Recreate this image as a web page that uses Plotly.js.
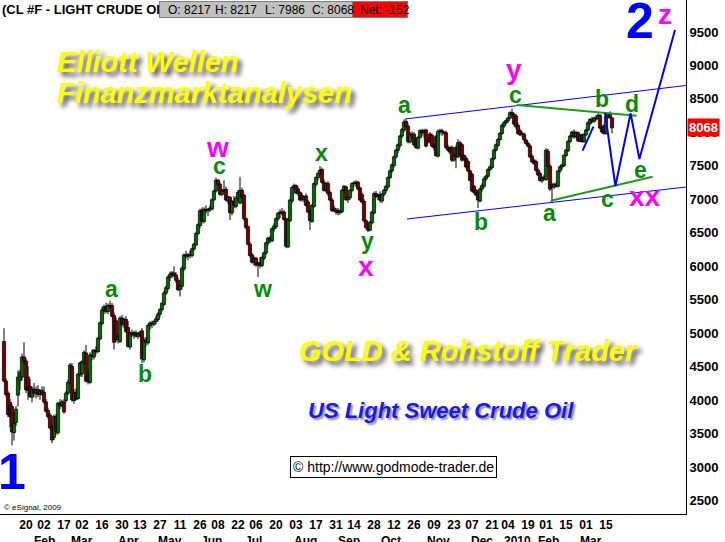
<!DOCTYPE html>
<html><head><meta charset="utf-8">
<script src="https://cdn.plot.ly/plotly-3.0.1.min.js"></script>
<style>html,body{margin:0;padding:0;background:#fff;}#chart{width:725px;height:542px;}</style>
</head><body><div id="chart"></div>
<script>
// Daily OHLC, CL #F light crude oil (Jan 2009 - Mar 2010)
const openP = [4875,4285,4105,3965,3905,3515,3665,4075,4295,4345,4645,4585,4345,4205,4045,4165,4105,4155,4085,4145,
4115,3975,3845,3775,3595,3445,3750,3515,3955,3915,3975,3995,4105,4255,4505,3995,4115,4025,4375,4395,
4565,4705,4365,4265,4675,4645,4745,4725,4915,5145,5345,5395,5325,5415,5415,5265,5185,4905,4875,5225,
5135,5205,5085,4795,5005,4975,5005,4955,4975,5035,4605,4895,4855,5115,5145,5135,5175,5205,5285,5355,
5430,5600,5670,5840,5880,5900,5870,5790,5650,5700,5960,6170,6150,6170,6160,6260,6320,6490,6610,6840,
6670,6850,6830,6850,6855,6995,7125,7285,7225,7075,7125,7150,6975,7030,6800,6970,6895,7015,6945,7135,
7060,6710,6590,6330,6170,6060,6120,6020,6050,6010,6120,6200,6350,6420,6380,6560,6590,6710,6790,6810,
6810,6710,6290,6680,6975,7175,7205,7155,7100,7055,6995,7050,6960,6820,6670,6895,7225,7325,7385,7445,
7255,7135,7235,7100,6990,6870,6840,6830,6800,6815,7135,7185,6995,7025,7135,7235,7245,7255,7170,7070,
6970,6680,6580,6540,6650,6795,7085,7045,7070,6975,7075,7135,7185,7325,7425,7505,7635,7735,7805,7945,
8035,8165,8095,7855,7975,7975,7875,7765,7925,8025,7995,8035,7875,7975,7955,7795,7935,7645,8015,8025,
8005,7995,7775,7765,7775,7585,7775,7635,7845,7815,7655,7615,7565,7425,7375,7195,7135,7100,6975,7155,
7195,7305,7345,7445,7475,7605,7735,7805,7895,7985,8095,8145,8175,8215,8295,8265,8245,8105,8025,7985,
7975,7885,7835,7795,7645,7575,7565,7435,7385,7275,7315,7295,7715,7495,7215,7185,7225,7195,7425,7485,
7505,7655,7725,7865,7945,8005,7935,7995,7945,7965,7865,7965,8035,8135,8195,8165,8215,8205,8255,8065,
8095,7985,8235,8275,8217];
const highP = [5075,4325,4135,4015,3935,3825,3915,4445,4455,4695,4865,4625,4505,4315,4205,4255,4205,4225,4165,4205,
4205,4015,3885,3805,3635,3785,3790,3975,4015,4005,4015,4135,4305,4555,4555,4165,4175,4405,4575,4595,
4745,4825,4455,4715,4755,4765,4805,4945,5175,5385,5425,5455,5445,5485,5455,5305,5235,4985,5255,5275,
5235,5255,5185,5025,5055,5035,5045,5015,5035,5075,4935,4945,5135,5175,5185,5195,5255,5315,5375,5465,
5630,5710,5860,5920,5930,6000,5910,5830,5730,6000,6190,6230,6200,6230,6280,6350,6510,6640,6860,6880,
6880,6910,6870,6910,7015,7145,7325,7305,7255,7155,7285,7190,7055,7050,6990,7050,7045,7135,7335,7175,
7080,6730,6610,6360,6200,6150,6140,6070,6140,6150,6220,6370,6440,6450,6580,6640,6730,6810,6850,6870,
6840,6730,6720,7010,7195,7235,7225,7195,7120,7095,7055,7090,6990,6860,6930,7255,7345,7415,7495,7475,
7295,7255,7275,7130,7020,6910,6870,6870,6850,7155,7215,7205,7055,7155,7255,7275,7285,7275,7190,7100,
7000,6700,6640,6680,6830,7115,7125,7085,7120,7095,7155,7215,7345,7445,7535,7655,7755,7835,7965,8065,
8195,8195,8135,8005,8015,8005,7925,7945,8045,8055,8055,8055,7925,8005,7985,7835,7965,8045,8055,8055,
8025,8025,7815,7795,7805,7675,7805,7895,7875,7835,7675,7645,7595,7445,7395,7215,7155,7120,7175,7235,
7335,7365,7465,7505,7625,7755,7835,7915,8005,8125,8165,8195,8235,8315,8355,8295,8275,8135,8055,8015,
7995,7905,7865,7825,7675,7605,7595,7465,7415,7335,7365,7765,7755,7525,7245,7245,7255,7435,7505,7535,
7675,7755,7885,7965,8025,8045,8025,8015,7975,7985,7985,8055,8165,8215,8235,8235,8255,8285,8275,8105,
8125,8265,8295,8315,8217];
const lowP = [4265,4055,3745,3595,3325,3395,3615,3905,4155,4295,4525,4105,4005,4035,3965,4055,4025,4045,4005,4065,
3945,3815,3725,3565,3355,3405,3480,3485,3865,3895,3795,3965,4075,4235,3975,3945,3995,4005,4345,4345,
4525,4265,4235,4245,4595,4605,4685,4705,4895,5115,5285,5295,5285,5365,5235,4755,4865,4845,4855,5095,
5075,5005,4785,4755,4945,4915,4935,4915,4935,4555,4565,4805,4825,5055,5075,5105,5135,5175,5245,5325,
5410,5570,5640,5780,5820,5840,5750,5630,5550,5660,5930,6110,6090,6120,6130,6230,6300,6460,6570,6640,
6640,6790,6750,6810,6835,6975,7105,7195,7055,7045,7095,6970,6935,6690,6760,6870,6865,6975,6925,6995,
6680,6550,6310,6130,6040,6010,5990,5840,5970,5990,6090,6170,6310,6350,6360,6520,6560,6680,6720,6760,
6680,6270,6270,6660,6945,7145,7075,7055,6970,6965,6955,6890,6800,6540,6650,6875,7195,7285,7355,7235,
7115,7105,7055,6970,6810,6810,6770,6760,6770,6795,7095,6975,6945,6995,7105,7195,7185,7135,6970,6940,
6660,6560,6510,6520,6630,6775,7015,6985,6950,6945,7045,7095,7165,7305,7395,7475,7605,7695,7775,7915,
8005,8065,7835,7835,7905,7795,7755,7745,7905,7945,7925,7775,7835,7835,7775,7735,7635,7625,7965,7945,
7965,7755,7715,7675,7555,7565,7465,7615,7635,7565,7575,7465,7405,7265,7105,7085,7045,6870,6955,7115,
7175,7275,7325,7415,7455,7585,7715,7785,7875,7965,8065,8115,8145,8195,8235,8105,8055,7965,7945,7935,
7865,7815,7775,7615,7545,7515,7415,7345,7265,7245,7285,7275,7475,7125,6945,7155,7175,7175,7395,7445,
7485,7635,7705,7845,7915,7905,7915,7855,7855,7845,7845,7945,8015,8105,8135,8145,8175,8185,8045,7985,
7965,7965,8205,8205,7986];
const closeP = [4285,4085,3785,3755,3525,3655,3865,4345,4415,4645,4575,4155,4145,4055,4165,4105,4155,4085,4135,4085,
3975,3835,3755,3585,3405,3755,3530,3955,3915,3975,3825,4105,4265,4525,4005,4105,4015,4385,4555,4575,
4715,4285,4275,4675,4655,4745,4725,4925,5155,5345,5395,5325,5415,5395,5255,4865,4905,4945,5225,5135,
5205,5025,4805,5005,4975,5005,4955,4995,5015,4615,4895,4865,5115,5155,5135,5175,5215,5285,5355,5445,
5600,5680,5840,5880,5900,5860,5790,5650,5710,5970,6170,6150,6170,6160,6260,6330,6490,6620,6830,6680,
6850,6830,6850,6870,6995,7125,7285,7225,7075,7125,7145,6990,7035,6800,6970,6910,7015,7105,7135,7035,
6710,6580,6330,6160,6060,6120,6020,6050,6010,6130,6200,6350,6420,6390,6560,6600,6710,6790,6810,6800,
6700,6300,6690,6990,7175,7205,7095,7085,6990,6995,7035,6910,6810,6680,6910,7235,7325,7385,7435,7255,
7135,7235,7085,6990,6830,6840,6810,6800,6830,7135,7195,6995,7025,7135,7235,7245,7255,7155,6990,6960,
6680,6580,6540,6660,6810,7085,7045,7055,6990,7075,7135,7195,7325,7425,7515,7635,7735,7815,7945,8045,
8155,8085,7865,7975,7945,7815,7775,7925,8025,7995,8025,7795,7865,7855,7795,7775,7655,8015,8025,8005,
7985,7775,7735,7705,7585,7655,7635,7845,7665,7585,7605,7485,7425,7285,7125,7105,7065,6990,7155,7205,
7305,7345,7445,7485,7605,7735,7815,7895,7985,8105,8145,8175,8215,8295,8265,8125,8085,7985,7965,7975,
7895,7835,7795,7635,7565,7535,7435,7365,7285,7315,7335,7735,7495,7155,7185,7225,7205,7425,7485,7515,
7655,7735,7865,7945,8005,7935,7995,7875,7865,7865,7965,8035,8145,8195,8165,8215,8205,8255,8065,8005,
7985,8235,8275,8220,8068];

// Axis labels
const dayTickIdx = [8,17,27,36,46,56,65,75,85,95,104,114,123,133,143,153,163,172,182,192,202,212,222,231,241,249,259,268,278,288,298];
const dayTickText = ['20','02','17','02','16','30','13','27','11','26','08','22','06','20','03','17','31','14','28','12','26','09','23','07','21','04','19','01','15','01','15'];
const monthNames = ['Feb','Mar','Apr','May','Jun','Jul','Aug','Sep','Oct','Nov','Dec','2010','Feb','Mar'];
const monthIdx = [20,39,62,83,103.5,124.5,150.5,172.5,193.5,217,239,256.5,272,293.5];
const priceTicks = [2500,3000,3500,4000,4500,5000,5500,6000,6500,7000,7500,8000,8500,9000,9500];
const lastClose = 8068;

// Elliott wave drawing lines (index, price)
const chanUpX = [200.5, 341], chanUpY = [8200, 8701];
const chanLoX = [201.5, 341], chanLoY = [6706, 7184];
const triUpX = [256.3, 316.3], triUpY = [8409, 8250];
const triLoX = [273.3, 324.3], triLoY = [6980, 7338];
const projX = [300.5, 305.7, 313.3, 317.7, 335.5], projY = [8290, 7199, 8285, 7603, 9530];
const segX = [289.3, 294.7], segY = [7727, 8085];

const PW = 686, PH = 514;
const GREEN = '#078a07', MAG = '#ff00ff', BLUE = '#0000ff';
const SANS = 'Liberation Sans, Arial, sans-serif';

// candle geometry derived from the OHLC arrays
const xIdx = openP.map((_, i) => i);
const wickX = [], wickY = [];
xIdx.forEach(i => { wickX.push(i, i, null); wickY.push(lowP[i], highP[i], null); });
const bodyBase = xIdx.map(i => Math.min(openP[i], closeP[i]));
const bodyLen = xIdx.map(i => Math.max(Math.abs(closeP[i] - openP[i]), 8));
const bodyCol = xIdx.map(i => closeP[i] >= openP[i] ? '#00d800' : '#e80000');

const traces = [
  {type:'scatter', mode:'lines', x:wickX, y:wickY, line:{color:'#000', width:1}, connectgaps:false, hoverinfo:'skip', showlegend:false},
  {type:'bar', x:xIdx, y:bodyLen, base:bodyBase, width:1.6, marker:{color:bodyCol, line:{color:'#000', width:0.8}}, hoverinfo:'skip', showlegend:false},
  {type:'scatter', mode:'lines', x:chanUpX, y:chanUpY, line:{color:BLUE,width:1}, hoverinfo:'skip', showlegend:false},
  {type:'scatter', mode:'lines', x:chanLoX, y:chanLoY, line:{color:BLUE,width:1}, hoverinfo:'skip', showlegend:false},
  {type:'scatter', mode:'lines', x:triUpX, y:triUpY, line:{color:'#1e9a1e',width:2}, hoverinfo:'skip', showlegend:false},
  {type:'scatter', mode:'lines', x:triLoX, y:triLoY, line:{color:'#1e9a1e',width:2}, hoverinfo:'skip', showlegend:false},
  {type:'scatter', mode:'lines', x:segX, y:segY, line:{color:BLUE,width:2}, hoverinfo:'skip', showlegend:false},
  {type:'scatter', mode:'lines', x:projX, y:projY, line:{color:BLUE,width:2}, hoverinfo:'skip', showlegend:false}
];

function ann(text, px, py, font, extra) {
  return Object.assign({xref:'paper', yref:'paper', x:px/PW, y:1-py/PH, text:text, showarrow:false,
    xanchor:'center', yanchor:'middle', font:font}, extra || {});
}
const gf = {family:SANS, size:23, color:GREEN, weight:'bold'};
const mf = {family:SANS, size:28, color:MAG, weight:'bold'};
const yellowFont = {family:SANS, size:29, color:'#ffff00', weight:'bold', style:'italic', shadow:'4px 4px 5px rgba(0,0,0,0.7)'};

const waveLabels = [
  ['a',112,289,gf],['b',145,374,gf],['w',217,147,mf],['c',219,166,gf],['w',262,289,gf],
  ['x',321,153,gf],['y',367,241,gf],['x',366,266,mf],['a',404,105,gf],['b',481,222,gf],
  ['y',514,70,mf],['c',515,95,gf],['a',549,213,gf],['b',602,99,gf],['c',607,199,gf],
  ['d',632,104,gf],['e',640,170,gf],['xx',645,196,mf],['z',665,14,mf]
];

const annotations = [];
waveLabels.forEach(l => annotations.push(ann(l[0], l[1], l[2], l[3])));
annotations.push(ann('1', 12, 472, {family:SANS, size:50, color:BLUE, weight:'bold'}));
annotations.push(ann('2', 640, 21, {family:SANS, size:50, color:BLUE, weight:'bold'}));
annotations.push(ann('Elliott Wellen', 55, 62, yellowFont, {xanchor:'left'}));
annotations.push(ann('Finanzmarktanalysen', 55, 93, yellowFont, {xanchor:'left'}));
annotations.push(ann('GOLD &amp; Rohstoff Trader', 468, 351, yellowFont));
annotations.push(ann('US Light Sweet Crude Oil', 441, 410, {family:SANS, size:22, color:'#1818f0', weight:'bold', style:'italic', shadow:'2px 2px 2px rgba(0,0,0,0.45)'}));
annotations.push(ann('© http://www.godmode-trader.de', 393, 467, {family:SANS, size:14, color:'#000'},
  {bgcolor:'#fff', bordercolor:'#000', borderwidth:1, borderpad:2}));
annotations.push(ann('© eSignal, 2009', 2, 507, {family:SANS, size:8, color:'#000'}, {xanchor:'left'}));
// header
annotations.push(ann('(CL #F - LIGHT CRUDE OIL', 0, 9, {family:SANS, size:13, color:'#000', weight:'bold'}, {xanchor:'left'}));
annotations.push(ann('\u00a0', 159, 1, {family:SANS, size:12, color:'#000'},
  {xanchor:'left', yanchor:'top', width:192, height:15, bgcolor:'#c0c0c0', bordercolor:'#808080', borderwidth:1, borderpad:0}));
annotations.push(ann('\u00a0', 352, 1, {family:SANS, size:12, color:'#000'},
  {xanchor:'left', yanchor:'top', width:54, height:15, bgcolor:'#ff0000', bordercolor:'#808080', borderwidth:1, borderpad:0}));
[['O: 8217',166],['H: 8217',213],['L: 7986',263],['C: 8068',310],['Net: -152',358]].forEach(f =>
  annotations.push(ann(f[0], f[1], 9.5, {family:SANS, size:12, color:'#000'}, {xanchor:'left'})));
// month labels
monthNames.forEach((m, k) => annotations.push({xref:'x', yref:'paper', x:monthIdx[k], y:1-541/PH, text:m,
  showarrow:false, xanchor:'center', yanchor:'middle', font:{family:SANS, size:12, color:'#000', weight:'bold'}}));
// last price marker
annotations.push({xref:'paper', yref:'y', x:1, y:lastClose, text:String(lastClose), showarrow:false,
  xanchor:'left', yanchor:'middle', xshift:1, bgcolor:'#ff0000', borderpad:1,
  font:{family:SANS, size:13, color:'#fff', weight:'bold'}});

const layout = {
  width:725, height:542, paper_bgcolor:'#fff', plot_bgcolor:'#fff',
  margin:{l:0, r:39, t:0, b:28, pad:0}, showlegend:false, barmode:'overlay',
  xaxis:{range:[-2,341], tickmode:'array', tickvals:dayTickIdx, ticktext:dayTickText, ticks:'', tickangle:0,
    ticklabelshift:6, tickfont:{family:SANS, size:12, color:'#000', weight:'bold'},
    showline:true, linecolor:'#000', linewidth:1, showgrid:false, zeroline:false,
    fixedrange:true, automargin:false},
  yaxis:{side:'right', range:[2299,9978], tickmode:'array', tickvals:priceTicks, ticktext:priceTicks.map(String),
    ticks:'', tickfont:{family:SANS, size:13, color:'#000', weight:'bold'},
    showline:true, linecolor:'#000', linewidth:1, showgrid:false, zeroline:false, fixedrange:true, automargin:false},
  annotations:annotations
};
Plotly.newPlot('chart', traces, layout, {staticPlot:true, displayModeBar:false});
</script>
</body></html>
